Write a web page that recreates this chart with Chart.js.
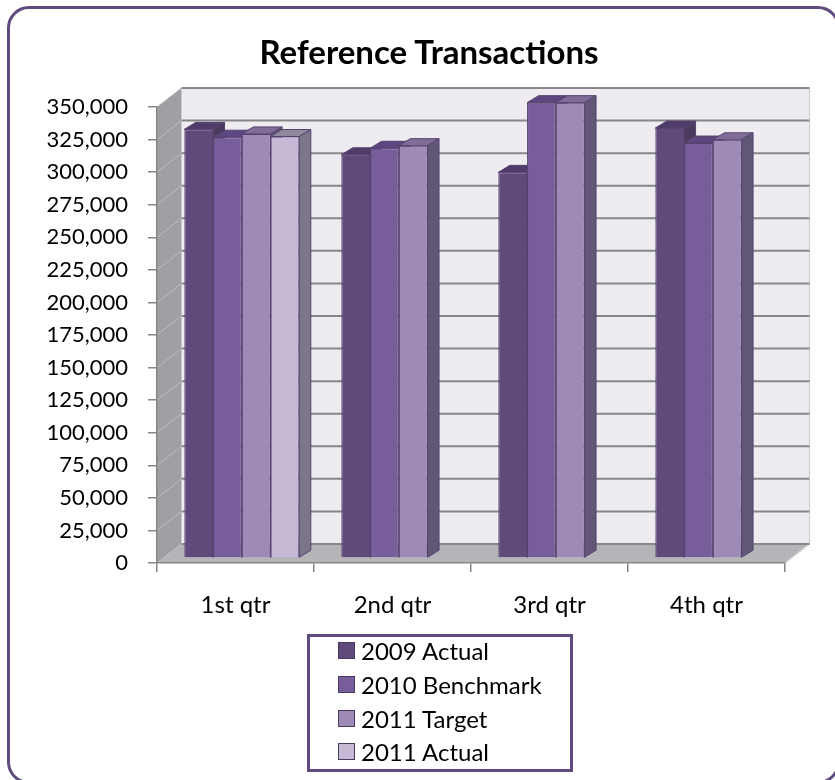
<!DOCTYPE html>
<html lang="en">
<head>
<meta charset="utf-8">
<title>Reference Transactions</title>
<script src="https://cdn.jsdelivr.net/npm/chart.js@4.4.0/dist/chart.umd.min.js"></script>
<style>
html,body{margin:0;background:#fff}
body{width:835px;height:780px;position:relative;overflow:hidden;font-family:Lato,sans-serif;color:#000}
#frame{position:absolute;left:7px;top:6px;width:833px;height:778px;border:3px solid #5f4b7d;border-radius:22px;box-sizing:border-box}
#chart{position:absolute;left:0;top:0}
#title{position:absolute;left:0;top:33px;width:858px;text-align:center;font-weight:700;font-size:33px;line-height:36px}
#legend{position:absolute;left:307px;top:634px;width:266px;height:138px;border:3px solid #5f4b7d;box-sizing:border-box;padding:0 0 0 28px}
#legend div{display:flex;align-items:center;height:33.7px;font-size:24px}
#legend div:first-child{margin-top:-3px}
#legend i{display:inline-block;width:15px;height:15px;border:1px solid #4a3961;margin-right:6px}
</style>
</head>
<body>

<div id="frame"></div>
<canvas id="chart" width="835" height="780"></canvas>
<div id="title">Reference Transactions</div>
<div id="legend"></div>

<script>
/* data */
const categories    = ['1st qtr','2nd qtr','3rd qtr','4th qtr'];
const seriesNames   = ['2009 Actual','2010 Benchmark','2011 Target','2011 Actual'];
const actual2009    = [329000,309500,296000,330000];
const benchmark2010 = [323000,314500,349500,318500];
const target2011    = [325500,316500,349500,321000];
const actual2011    = [323500,null,null,null];
const yMax = 350000, yStep = 25000;

/* colours: front / top / side faces */
const frontCol = ['#604a7b','#775d9a','#9e8ab6','#c5b9d5'];
const topCol   = ['#4f3c68','#5d4780','#7f6c98','#908a9e'];
const sideCol  = ['#4a3a5e','#5a4973','#615675','#7b7789'];
const edgeCol  = '#574370';

/* 3d offsets */
const DX=24.5, DY=-19;        // wall depth
const BX=11.5, BY=-7;         // bar depth
const SX=6.3,  SY=-5;         // bars stand mid-depth

function poly(ctx,pts,fill,stroke){
  ctx.beginPath();
  pts.forEach((p,i)=> i? ctx.lineTo(p[0],p[1]) : ctx.moveTo(p[0],p[1]));
  ctx.closePath();
  ctx.fillStyle=fill; ctx.fill();
  if(stroke){ ctx.strokeStyle=stroke; ctx.lineWidth=1; ctx.stroke(); }
}

const walls = {
  id:'walls',
  beforeDraw(c){
    const {ctx, chartArea:{left:L,right:R,top:T,bottom:B}, scales:{y}} = c;
    ctx.save();
    poly(ctx,[[L+DX,T+DY],[R+DX,T+DY],[R+DX,B+DY],[L+DX,B+DY]],'#eeecf1');
    poly(ctx,[[L,T],[L+DX,T+DY],[L+DX,B+DY],[L,B]],'#a09fa4');
    poly(ctx,[[L,B],[L+DX,B+DY],[R+DX,B+DY],[R,B]],'#b5b4b9');
    // back wall right edge
    ctx.strokeStyle='#d4d4d4'; ctx.lineWidth=1.5;
    ctx.beginPath(); ctx.moveTo(R+DX,T+DY); ctx.lineTo(R+DX,B+DY); ctx.lineTo(R,B); ctx.stroke();
    y.ticks.forEach(t=>{
      const py=y.getPixelForValue(t.value);
      ctx.strokeStyle='#bdbdc0'; ctx.lineWidth=1;
      ctx.beginPath(); ctx.moveTo(L,py); ctx.lineTo(L+DX,py+DY); ctx.stroke();
      ctx.strokeStyle='#878787'; ctx.lineWidth=2;
      ctx.beginPath(); ctx.moveTo(L+DX,py+DY); ctx.lineTo(R+DX,py+DY); ctx.stroke();
    });
    ctx.restore();
  }
};

/* draw bars left to right so each one hides its neighbour's side */
const bars3d = {
  id:'bars3d',
  beforeDatasetsDraw(c){
    const ctx=c.ctx;
    ctx.save();
    ctx.translate(SX,SY);
    categories.forEach((_,j)=>{
      c.data.datasets.forEach((ds,i)=>{
        if(ds.data[j]==null) return;
        const el=c.getDatasetMeta(i).data[j];
        const {x,y,base,width}=el.getProps(['x','y','base','width'],true);
        const l=x-width/2, r=x+width/2;
        el.draw(ctx);
        poly(ctx,[[l,y],[l+BX,y+BY],[r+BX,y+BY],[r,y]],topCol[i],edgeCol);
        poly(ctx,[[r,y],[r+BX,y+BY],[r+BX,base+BY],[r,base]],sideCol[i],edgeCol);
      });
    });
    ctx.restore();
    return false;
  }
};

const seriesData=[actual2009,benchmark2010,target2011,actual2011];

new Chart(document.getElementById('chart').getContext('2d'),{
  type:'bar',
  data:{
    labels:categories,
    datasets:seriesNames.map((n,i)=>({
      label:n, data:seriesData[i],
      backgroundColor:frontCol[i], borderColor:edgeCol, borderWidth:1,
      categoryPercentage:.7325, barPercentage:1
    }))
  },
  options:{
    responsive:false, animation:false,
    layout:{padding:{top:107,right:50,bottom:157,left:0}},
    scales:{
      x:{
        ticks:{color:'#000',font:{family:'Lato',size:24},padding:19},
        grid:{drawOnChartArea:false,tickLength:9,color:'#868686',lineWidth:1.5,offset:true},
        border:{color:'#868686',width:1.5},
        afterFit(s){ s.height=60; }
      },
      y:{
        min:0,max:yMax,
        ticks:{stepSize:yStep,color:'#000',font:{family:'Lato',size:22},padding:20,callback:v=>v.toLocaleString('en-US')},
        grid:{drawOnChartArea:false,tickLength:9,color:'#868686',lineWidth:1.5},
        border:{color:'#868686',width:1.5},
        afterFit(s){ s.width=157; }
      }
    },
    plugins:{legend:{display:false},tooltip:{enabled:false},title:{display:false}}
  },
  plugins:[walls,bars3d]
});

/* legend box */
document.getElementById('legend').innerHTML = seriesNames
  .map((n,i)=>`<div><i style="background:${frontCol[i]}"></i>${n}</div>`).join('');
</script>
</body>
</html>
